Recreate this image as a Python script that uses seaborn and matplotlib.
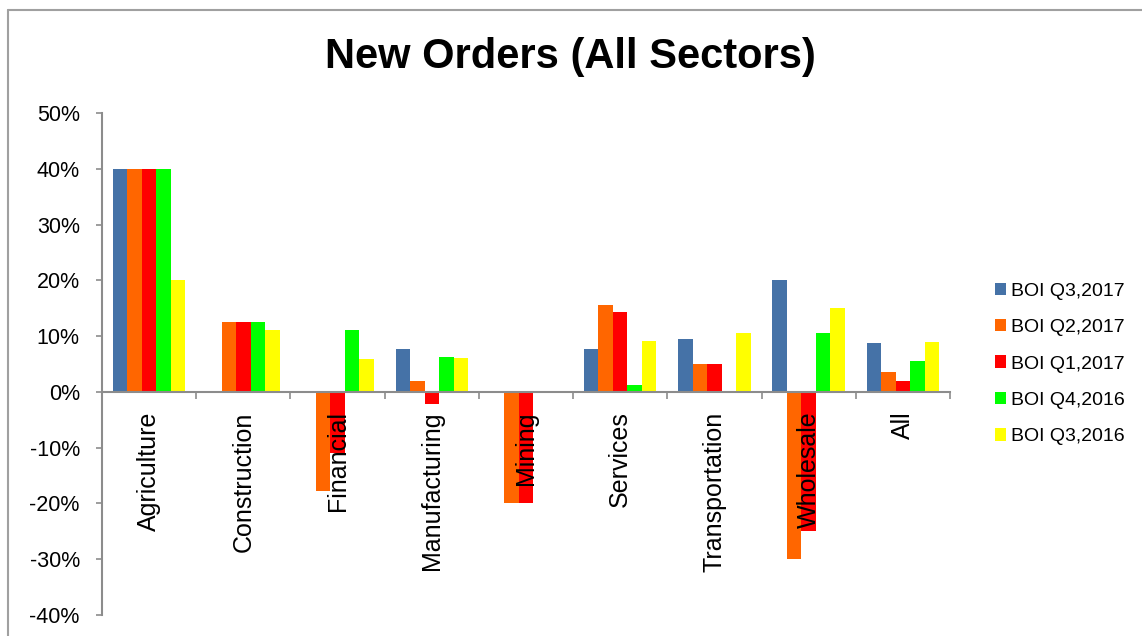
import matplotlib
matplotlib.use("Agg")
import matplotlib.pyplot as plt
from matplotlib.lines import Line2D
from matplotlib.ticker import FixedLocator, PercentFormatter
import seaborn as sns
import pandas as pd

sectors = ["Agriculture", "Construction", "Financial", "Manufacturing", "Mining",
           "Services", "Transportation", "Wholesale", "All"]
series_names = ["BOI Q3,2017", "BOI Q2,2017", "BOI Q1,2017", "BOI Q4,2016", "BOI Q3,2016"]
q3_2017 = [40, 0, 0, 7.6, 0, 7.6, 9.5, 20, 8.7]
q2_2017 = [40, 12.5, -17.7, 2.0, -20, 15.6, 5.0, -30, 3.5]
q1_2017 = [40, 12.5, -11.0, -2.1, -20, 14.3, 5.0, -25, 2.0]
q4_2016 = [40, 12.5, 11.1, 6.2, 0, 1.25, 0, 10.5, 5.5]
q3_2016 = [20, 11.1, 5.9, 6.1, 0, 9.2, 10.5, 15, 9.0]
colors = ["#4572A7", "#FF6600", "#FF0000", "#00FF00", "#FFFF00"]
y_ticks = [-40, -30, -20, -10, 0, 10, 20, 30, 40, 50]

rows = []
for name, vals in zip(series_names, [q3_2017, q2_2017, q1_2017, q4_2016, q3_2016]):
    for s, v in zip(sectors, vals):
        rows.append({"Sector": s, "Series": name, "Value": v})
df = pd.DataFrame(rows)

sns.set_style("white")
plt.rcParams["font.family"] = ["Liberation Sans", "DejaVu Sans"]
plt.rcParams["axes.unicode_minus"] = False
plt.rcParams["text.color"] = "black"
plt.rcParams["xtick.color"] = "black"
plt.rcParams["ytick.color"] = "black"

fig = plt.figure(figsize=(11.42, 6.36), dpi=100)
ax = fig.add_axes([102 / 1142, 1 - 615 / 636, (950 - 102) / 1142, (615 - 113) / 636])

sns.barplot(data=df, x="Sector", y="Value", hue="Series", order=sectors,
            hue_order=series_names, palette=colors, width=0.77, ax=ax,
            saturation=1, edgecolor="none", linewidth=0, legend=True)

ax.set_axisbelow(False)
ax.set_xlim(-0.5, len(sectors) - 0.5)
ax.set_ylim(-40, 50)
ax.yaxis.set_major_locator(FixedLocator(y_ticks))
ax.yaxis.set_major_formatter(PercentFormatter(decimals=0))
ax.set_xlabel("")
ax.set_ylabel("")

spine_col = "#8c8c8c"
for side in ["top", "right"]:
    ax.spines[side].set_visible(False)
ax.spines["left"].set_color(spine_col)
ax.spines["left"].set_linewidth(1.5)
ax.spines["bottom"].set_position(("data", 0))
ax.spines["bottom"].set_color(spine_col)
ax.spines["bottom"].set_linewidth(1.5)

ax.tick_params(axis="y", which="major", direction="out", length=4, width=1.2,
               color=spine_col, labelcolor="black", labelsize=15.5, pad=12, left=True)
ax.set_xticks(range(len(sectors)))
ax.set_xticklabels(sectors, rotation=90, va="top", ha="center")
ax.tick_params(axis="x", which="major", length=0, labelsize=18, pad=14, labelcolor="black")
ax.xaxis.set_minor_locator(FixedLocator([i - 0.5 for i in range(len(sectors) + 1)]))
ax.tick_params(axis="x", which="minor", direction="out", length=5, width=1.2,
               color=spine_col, bottom=True)

leg = ax.legend(loc="center left", bbox_to_anchor=(987 / 1142, 1 - 364 / 636),
                bbox_transform=fig.transFigure, frameon=False, fontsize=14,
                handlelength=0.6, handleheight=0.6, handletextpad=0.25,
                labelspacing=1.0, borderaxespad=0)
for t in leg.get_texts():
    t.set_color("black")

fig.text(570 / 1142, 1 - 57 / 636, "New Orders (All Sectors)", ha="center", va="center",
         fontsize=30, fontweight="bold", color="black")

frame_col = "#a0a0a0"
fig.add_artist(Line2D([8 / 1142, 8 / 1142], [0, 1 - 10 / 636], transform=fig.transFigure,
                      color=frame_col, linewidth=1.5))
fig.add_artist(Line2D([8 / 1142, 1], [1 - 10 / 636, 1 - 10 / 636], transform=fig.transFigure,
                      color=frame_col, linewidth=1.5))

fig.savefig("out.png", dpi=100)
